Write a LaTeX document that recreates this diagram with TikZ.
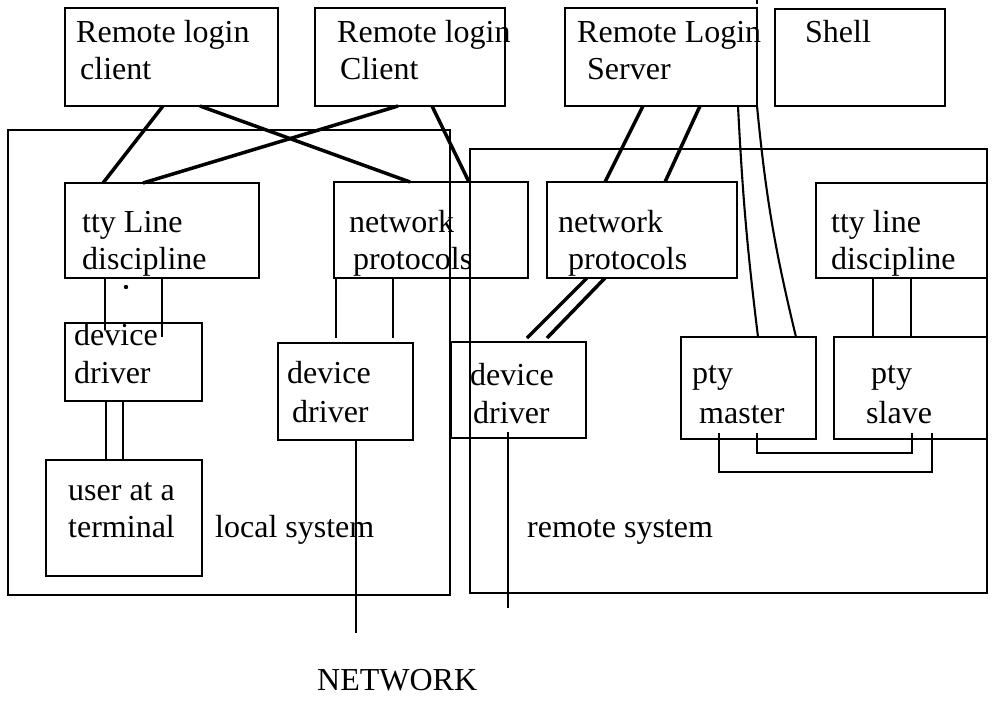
\documentclass[tikz,border=0pt]{standalone}
\usepackage{fontspec}
\setmainfont{Liberation Serif}
\usetikzlibrary{calc}
\begin{document}
\begin{tikzpicture}[x=1pt,y=-1pt,
  box/.style={draw,line width=2.1pt,inner sep=0pt,outer sep=0pt,anchor=north west},
  conn/.style={line width=2.1pt},
  thickconn/.style={line width=3.5pt},
  lbl/.style={anchor=base west,inner sep=0pt,font=\fontsize{32}{36}\selectfont}]
\useasboundingbox (0,0) rectangle (994,702);
% system boxes
\node[box,minimum width=442pt,minimum height=465pt] (local) at (8,130) {};
\node[box,minimum width=517pt,minimum height=444pt] (remote) at (470,149) {};
% top boxes
\node[box,minimum width=213pt,minimum height=98pt] (c1) at (65,8) {};
\node[box,minimum width=190pt,minimum height=98pt] (c2) at (315,8) {};
\node[box,minimum width=192pt,minimum height=98pt] (srv) at (565,8) {};
\node[box,minimum width=170pt,minimum height=97pt] (shell) at (775,9) {};
% inner boxes
\node[box,minimum width=194pt,minimum height=95pt] (ltty) at (65,183) {};
\node[box,minimum width=194pt,minimum height=96pt] (lnp) at (334,182) {};
\node[box,minimum width=190pt,minimum height=96pt] (rnp) at (547,182) {};
\node[box,minimum width=171pt,minimum height=95pt] (rtty) at (816,183) {};
\node[box,minimum width=137pt,minimum height=78pt] (ldd1) at (65,323) {};
\node[box,minimum width=135pt,minimum height=97pt] (ldd2) at (278,343) {};
\node[box,minimum width=135pt,minimum height=96pt] (rdd) at (451,342) {};
\node[box,minimum width=156pt,minimum height=116pt] (user) at (46,460) {};
\node[box,minimum width=135pt,minimum height=102pt] (master) at (681,337) {};
\node[box,minimum width=153pt,minimum height=102pt] (slave) at (834,337) {};
% labels
\node[lbl] (t1a) at (76,42) {Remote login};
\node[lbl] (t1b) at (80,79) {client};
\node[lbl] (t2a) at (337,42) {Remote login};
\node[lbl] (t2b) at (340,79) {Client};
\node[lbl] (t3a) at (577,42) {Remote Login};
\node[lbl] (t3b) at (587,79) {Server};
\node[lbl] (t4) at (805,42) {Shell};
\node[lbl] (t5a) at (82,232) {tty Line};
\node[lbl] (t5b) at (82,269) {discipline};
\node[lbl] (t6a) at (349,232) {network};
\node[lbl] (t6b) at (353,269) {protocols};
\node[lbl] (t7a) at (558,232) {network};
\node[lbl] (t7b) at (568,269) {protocols};
\node[lbl] (t8a) at (831,232) {tty line};
\node[lbl] (t8b) at (831,269) {discipline};
\node[lbl] (t9a) at (74,345) {device};
\node[lbl] (t9b) at (74,383) {driver};
\node[lbl] (t10a) at (287,383) {device};
\node[lbl] (t10b) at (292,422) {driver};
\node[lbl] (t11a) at (470,385) {device};
\node[lbl] (t11b) at (473,423) {driver};
\node[lbl] (t12a) at (692,383) {pty};
\node[lbl] (t12b) at (699,423) {master};
\node[lbl] (t13a) at (871,383) {pty};
\node[lbl] (t13b) at (866,423) {slave};
\node[lbl] (t14a) at (68,500) {user at a};
\node[lbl] (t14b) at (68,537) {terminal};
\node[lbl] (t15) at (215,537) {local system};
\node[lbl] (t16) at (527,537) {remote system};
\node[lbl] (t17) at (317,690) {NETWORK};
% free ends
\coordinate (netL) at (356,633);
\coordinate (netR) at (508,608);
\coordinate (tick) at (757,0);
% client connectors
\draw[thickconn] ($(c1.south west)+(98,0)$) -- ($(ltty.north west)+(38,0)$);
\draw[thickconn] ($(c1.south west)+(135,0)$) -- ($(lnp.north west)+(76,0)$);
\draw[thickconn] ($(c2.south west)+(83,0)$) -- ($(ltty.north west)+(78,0)$);
\draw[thickconn] ($(c2.south west)+(117,0)$) -- ($(lnp.north west)+(135,0)$);
% server connectors
\draw[thickconn] ($(srv.south west)+(78,0)$) -- ($(rnp.north west)+(58,0)$);
\draw[thickconn] ($(srv.south west)+(135,0)$) -- ($(rnp.north west)+(118,0)$);
\draw[conn] ($(srv.south west)+(173,0)$) to[bend right=2] ($(master.north west)+(77,0)$);
\draw[conn] (srv.south east) to[bend right=4] ($(master.north west)+(115,0)$);
\draw[conn] (tick) -- ($(srv.north east)+(0,-4)$);
% remote protocols to device driver
\draw[thickconn] ($(rnp.south west)+(40,0)$) -- ($(rdd.north west)+(76,-4)$);
\draw[thickconn] ($(rnp.south west)+(58,0)$) -- ($(rdd.north west)+(96,-4)$);
% local stack
\draw[conn] ($(ltty.south west)+(40,0)$) -- ($(ldd1.north west)+(40,7)$);
\draw[conn] ($(ltty.south west)+(97,0)$) -- ($(ldd1.north west)+(97,14)$);
\fill (126,287) circle (2.2pt);
\draw[conn] ($(ldd1.south west)+(41,0)$) -- ($(user.north west)+(60,0)$);
\draw[conn] ($(ldd1.south west)+(58,0)$) -- ($(user.north west)+(77,0)$);
\draw[conn] ($(lnp.south west)+(2,0)$) -- ($(ldd2.north west)+(58,-5)$);
\draw[conn] ($(lnp.south west)+(59,0)$) -- ($(ldd2.north west)+(115,-5)$);
% network lines
\draw[conn] ($(ldd2.south west)+(78,0)$) -- (netL);
\draw[conn] ($(rdd.south west)+(57,-6)$) -- (netR);
% remote tty to pty slave
\draw[conn] ($(rtty.south west)+(57,0)$) -- ($(slave.north west)+(39,0)$);
\draw[conn] ($(rtty.south west)+(95,0)$) -- ($(slave.north west)+(77,0)$);
% pty loops
\draw[conn] ($(master.south west)+(76,-6)$) |- ($(slave.south west)+(78,14)$) -- ($(slave.south west)+(78,-6)$);
\draw[conn] ($(master.south west)+(38,-6)$) |- ($(slave.south west)+(98,33)$) -- ($(slave.south west)+(98,-6)$);
\end{tikzpicture}
\end{document}
